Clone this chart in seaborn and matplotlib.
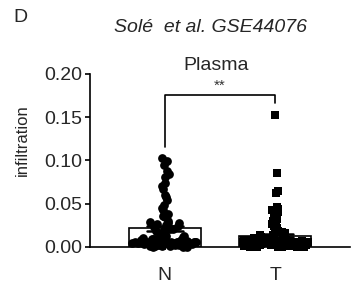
import matplotlib
matplotlib.use("Agg")
import matplotlib.pyplot as plt
import numpy as np
import pandas as pd
import seaborn as sns
from matplotlib.ticker import FormatStrFormatter

# ---------------- data ----------------
categories = ["N", "T"]

n_values = [
    0.103, 0.099, 0.095, 0.088, 0.084, 0.081, 0.074, 0.070, 0.067, 0.060,
    0.057, 0.054, 0.048, 0.045, 0.043, 0.038, 0.036, 0.034, 0.030,
    0.029, 0.028, 0.027, 0.026, 0.025, 0.024, 0.023, 0.022, 0.021, 0.020,
    0.019, 0.018, 0.017, 0.016, 0.015, 0.014,
    0.000, 0.000, 0.000, 0.001, 0.001, 0.001, 0.001, 0.002, 0.002, 0.002,
    0.002, 0.002, 0.003, 0.003, 0.003, 0.003, 0.003, 0.004, 0.004, 0.004,
    0.004, 0.004, 0.004, 0.005, 0.005, 0.005, 0.005, 0.005, 0.006, 0.006,
    0.006, 0.006, 0.006, 0.006, 0.007, 0.007, 0.007, 0.007, 0.008, 0.008,
    0.008, 0.008, 0.009, 0.009, 0.009, 0.010, 0.010, 0.010, 0.011, 0.012,
    0.012,
]

t_values = [
    0.152, 0.085, 0.065, 0.062,
    0.046, 0.044, 0.042, 0.040, 0.038, 0.036, 0.034, 0.032, 0.030, 0.028,
    0.026, 0.024, 0.022, 0.020,
    0.018, 0.017, 0.016, 0.015, 0.014, 0.013, 0.012, 0.011,
    0.000, 0.000, 0.000, 0.000, 0.000, 0.000,
    0.001, 0.001, 0.001, 0.001, 0.001, 0.001, 0.001, 0.001,
    0.002, 0.002, 0.002, 0.002, 0.002, 0.002, 0.002, 0.002, 0.002,
    0.003, 0.003, 0.003, 0.003, 0.003, 0.003, 0.003, 0.003, 0.003,
    0.004, 0.004, 0.004, 0.004, 0.004, 0.004, 0.004, 0.004, 0.004,
    0.005, 0.005, 0.005, 0.005, 0.005, 0.005, 0.005, 0.005,
    0.006, 0.006, 0.006, 0.006, 0.006, 0.006, 0.006,
    0.007, 0.007, 0.007, 0.007, 0.007,
    0.008, 0.008, 0.008,
    0.009, 0.009,
    0.010,
]

y_ticks = [0.00, 0.05, 0.10, 0.15, 0.20]
panel_label = "D"
title_text = "Solé  et al. GSE44076"
subtitle_text = "Plasma"
sig_text = "**"
y_label = "infiltration"

df = pd.DataFrame({
    "group": ["N"] * len(n_values) + ["T"] * len(t_values),
    "value": n_values + t_values,
})

# ---------------- style ----------------
sns.set_theme(style="ticks")
plt.rcParams["font.family"] = ["Liberation Sans", "DejaVu Sans"]
np.random.seed(7)

fig = plt.figure(figsize=(3.54, 2.89), dpi=100)
ax = fig.add_axes([0.2542, 0.1464, 0.7345, 0.5976])

sns.barplot(
    data=df, x="group", y="value", order=categories,
    errorbar="se", width=0.65, color="white", saturation=1,
    edgecolor="black", linewidth=1.2, capsize=0.33,
    err_kws={"color": "black", "linewidth": 1.8}, ax=ax,
)

# scatter drawn in layers: narrow spread for the high stem, wide at the base
markers = {"N": "o", "T": "s"}
layers = {
    "N": [(0.0295, 1.0, 0.035), (0.0125, 0.0295, 0.14), (-1.0, 0.0125, 0.30)],
    "T": [(0.0185, 1.0, 0.03), (0.0105, 0.0185, 0.14), (-1.0, 0.0105, 0.30)],
}
for cat in categories:
    sub = df[df["group"] == cat]
    for lo, hi, jit in layers[cat]:
        part = sub[(sub["value"] > lo) & (sub["value"] <= hi)]
        sns.stripplot(
            data=part, x="group", y="value", order=categories,
            marker=markers[cat], size=6.3, color="black", linewidth=0,
            jitter=jit, ax=ax,
        )

for c in ax.collections:
    c.set_clip_on(False)

ax.set_xlim(-0.68, 1.68)
ax.set_ylim(0, 0.2)
ax.set_yticks(y_ticks)
ax.yaxis.set_major_formatter(FormatStrFormatter("%.2f"))
ax.set_xlabel("")
ax.set_ylabel(y_label, fontsize=12)
ax.yaxis.label.set_va("center")
ax.yaxis.set_label_coords(-0.2615, 0.618)

sns.despine(ax=ax)
for s in ["left", "bottom"]:
    ax.spines[s].set_linewidth(1.2)
    ax.spines[s].set_color("black")
ax.tick_params(axis="y", length=3.6, width=1.2, labelsize=14, pad=2, color="black")
ax.tick_params(axis="x", length=2.5, width=1.2, labelsize=14, pad=12, color="black")

# significance bracket
top = 0.1757
left_bottom = max(n_values) + 0.0125
right_bottom = max(t_values) + 0.0144
ax.plot([0, 0, 1, 1], [left_bottom, top, top, right_bottom],
        color="black", linewidth=1.2, clip_on=False)
ax.text(0.5, top + 0.003, sig_text, ha="center", va="bottom", fontsize=11,
        color="#333333")

# texts
fig.text(13 / 354, 1 - 17 / 289, panel_label, ha="left", va="center", fontsize=14)
fig.text(210 / 354, 1 - 27 / 289, title_text, ha="center", va="center",
         fontsize=14, style="italic")
fig.text(216 / 354, 1 - 66 / 289, subtitle_text, ha="center", va="center", fontsize=14)

fig.savefig("out.png", dpi=100)
